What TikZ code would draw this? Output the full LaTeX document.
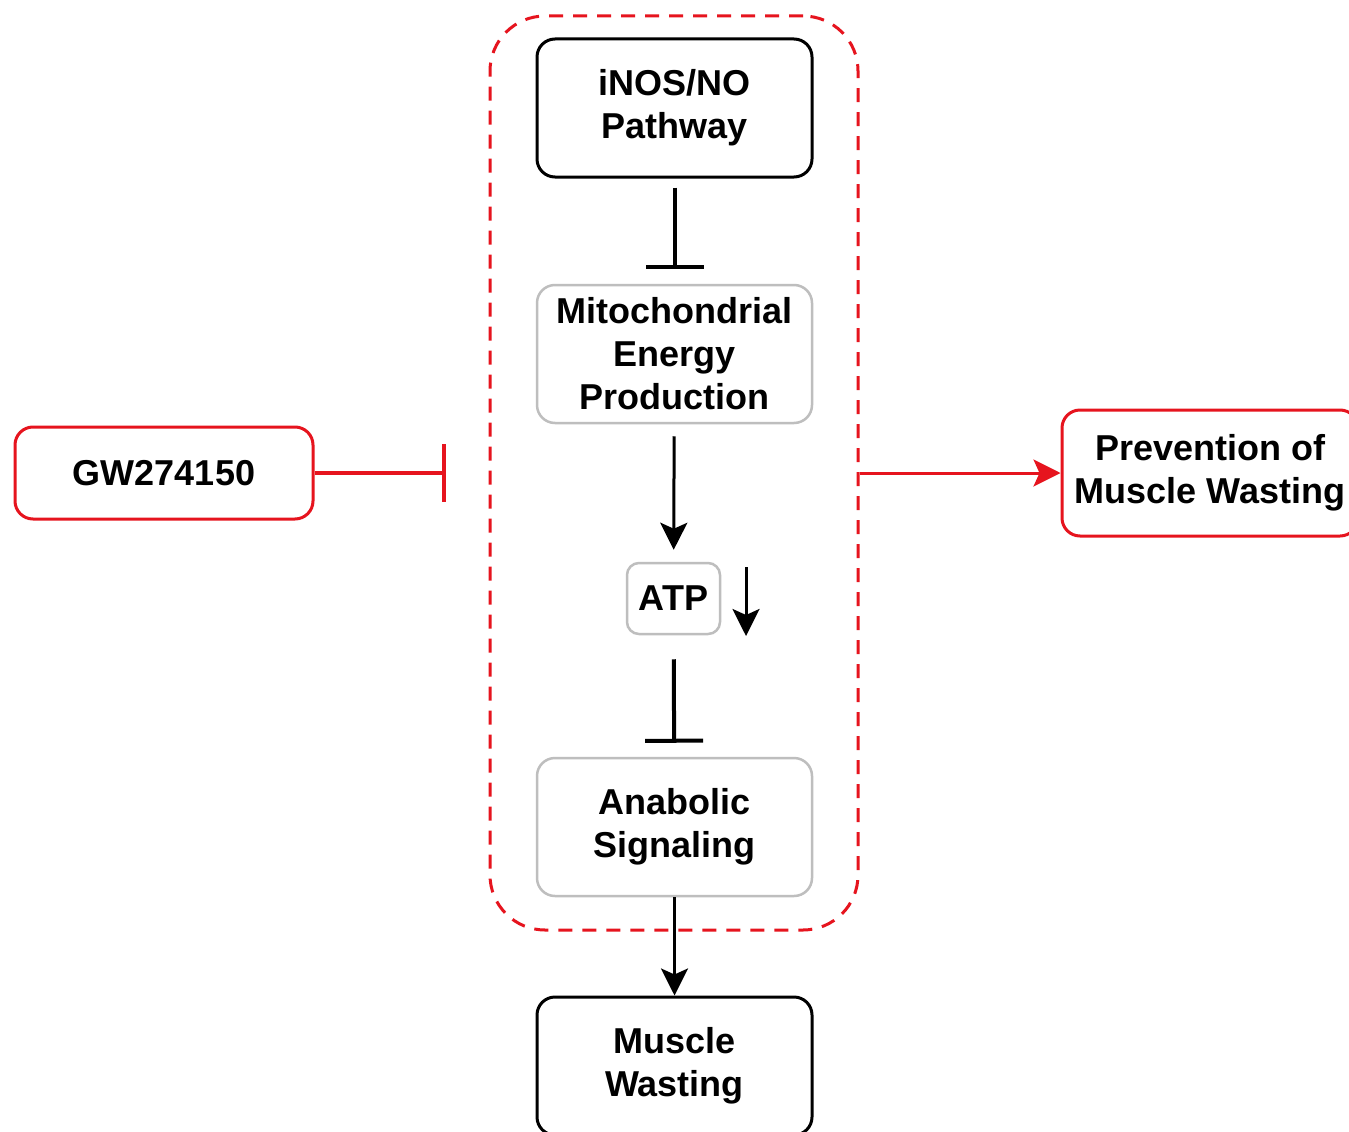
\documentclass[tikz,border=0pt]{standalone}
\usepackage{fontspec}
\setmainfont{Liberation Sans}
\usetikzlibrary{arrows.meta}
\definecolor{rd}{RGB}{230,20,30}
\definecolor{lg}{RGB}{190,190,190}
\tikzset{
  txt/.style={font=\fontsize{36}{43}\selectfont\bfseries, align=center, inner sep=0pt},
  blackbox/.style={txt, draw=black, line width=3pt, rounded corners=18pt, minimum width=275pt, minimum height=138pt},
  greybox/.style={txt, draw=lg, line width=2.5pt, rounded corners=18pt, minimum width=275pt, minimum height=138pt},
  redbox/.style={txt, draw=rd, line width=3pt, rounded corners=18pt},
  inhib/.style={line width=4pt, -{Bar[width=58pt,line width=4pt]}},
  act/.style={line width=3pt, -{Stealth[length=27pt,width=27pt,inset=6pt]}},
}
\begin{document}
\begin{tikzpicture}[x=1pt,y=-1pt]
\useasboundingbox[fill=white] (0,0) rectangle (1349,1132);
\node[draw=rd, dashed, dash pattern=on 14pt off 10pt, line width=3pt, rounded corners=55pt,
      minimum width=368pt, minimum height=914pt, inner sep=0pt] (grp) at (674,473) {};
\node[blackbox] (inos) at (674.5,108) {iNOS/NO\\Pathway};
\node[greybox] (mito) at (674.5,354) {Mitochondrial\\Energy\\Production};
\node[greybox, minimum width=93pt, minimum height=71pt, rounded corners=12pt] (atp) at (673.5,598.5) {ATP};
\node[greybox] (anab) at (674.5,827) {Anabolic\\Signaling};
\node[blackbox] (mw) at (674.5,1066) {Muscle\\Wasting};
\node[redbox, minimum width=298pt, minimum height=92pt] (gw) at (164,473) {GW274150};
\node[redbox, minimum width=296pt, minimum height=126pt] (prev) at (1210,473) {Prevention of\\Muscle Wasting};
\coordinate (atpa) at (746,567);
\coordinate (atpb) at (746,636);
\draw[inhib, shorten <=9pt, shorten >=15pt] (inos) -- (mito);
\draw[act, shorten <=12pt, shorten >=12pt] (mito) -- (atp);
\draw[act] (atpa) -- (atpb);
\draw[inhib, shorten <=24pt, shorten >=14pt] (atp) -- (anab);
\draw[act] (anab) -- (mw);
\draw[inhib, draw=rd, shorten >=43pt] (gw) -- (grp.west);
\draw[act, draw=rd, fill=rd] (grp.east) -- (prev);
\end{tikzpicture}
\end{document}
